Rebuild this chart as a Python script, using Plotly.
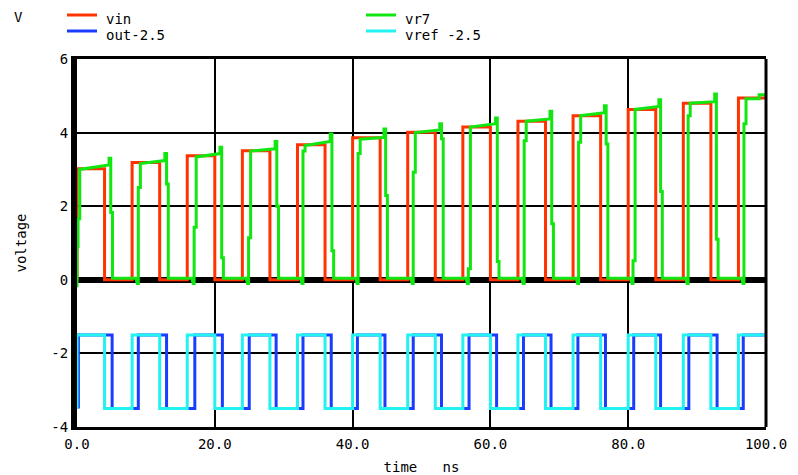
import plotly.graph_objects as go

# ---------------- data ----------------
# vin : pulse train, one pulse every 8 ns, amplitude ramps up
vin_rise_t = [0, 8, 16, 24, 32, 40, 48, 56, 64, 72, 80, 88, 96]
vin_fall_t = [4, 12, 20, 28, 36, 44, 52, 60, 68, 76, 84, 92]
vin_amp = [3.02, 3.19, 3.37, 3.51, 3.67, 3.86, 4.01, 4.15, 4.31, 4.46, 4.63, 4.80, 4.94]

# vr7 : tracking output (delayed, with steps, spikes and undershoot)
vr7_rise_t = [0.0, 8.9, 17.0, 24.9, 32.8, 40.8, 48.8, 56.8, 64.9, 72.8, 80.7, 88.7, 96.8]
vr7_fall_t = [4.9, 13.0, 21.0, 29.0, 37.0, 44.8, 52.9, 61.0, 68.9, 76.8, 84.7, 92.8]
vr7_step_up = [1.66, 2.51, 1.43, 1.14, 3.50, 3.43, 2.92, 0.30, 3.78, 3.74, 0.52, 4.46, 4.24]
vr7_top = [3.00, 3.16, 3.34, 3.50, 3.65, 3.82, 4.00, 4.15, 4.31, 4.46, 4.63, 4.80, 4.92]
vr7_top_end = [3.12, 3.24, 3.43, 3.56, 3.76, 3.87, 4.07, 4.24, 4.37, 4.54, 4.71, 4.84, 5.03]
vr7_spike = [3.30, 3.43, 3.60, 3.76, 3.96, 4.10, 4.24, 4.40, 4.58, 4.73, 4.89, 5.05]
vr7_fall_mid = [1.83, 2.60, 0.60, 2.00, 0.79, 2.29, 3.83, 0.50, 1.52, 3.69, 2.40, 1.10]
vr7_low = 0.04
vr7_dip = -0.10
vr7_start = -0.20

# out-2.5 and vref -2.5 : square waves between -3.5 and -1.5
out_edge_t = [0.2, 5.1, 8.9, 13.0, 17.1, 21.1, 25.0, 28.9, 32.8, 36.9, 40.7, 44.7,
              48.8, 52.9, 56.9, 60.9, 64.8, 68.8, 72.7, 76.7, 80.8, 84.7, 88.8, 92.9, 96.7]
vref_edge_t = [0, 4, 8, 12, 16, 20, 24, 28, 32, 36, 40, 44, 48, 52, 56, 60, 64, 68,
               72, 76, 80, 84, 88, 92, 96]
sq_low = -3.5
sq_high = -1.5
t_end = 100

x_ticks = [0, 20, 40, 60, 80, 100]
x_tick_labels = ["0.0", "20.0", "40.0", "60.0", "80.0", "100.0"]
y_ticks = [-4, -2, 0, 2, 4, 6]
y_tick_labels = ["-4", "-2", "0", "2", "4", "6"]

series_names = ["vin", "out-2.5", "vr7", "vref -2.5"]
series_colors = ["#ff3300", "#1a3cff", "#11e611", "#22f2f2"]

# ---------------- build waveforms ----------------
def pulses_vin():
    t, v = [], []
    for i, tr in enumerate(vin_rise_t):
        a = vin_amp[i]
        t += [tr, tr]
        v += [0, a]
        if i < len(vin_fall_t):
            tf = vin_fall_t[i]
            t += [tf, tf]
            v += [a, 0]
        else:
            t += [t_end]
            v += [a]
    return t, v


def pulses_vr7():
    t, v = [], []
    for i, tr in enumerate(vr7_rise_t):
        if i == 0:
            t += [tr, tr, tr + 0.15, tr + 0.15, tr + 0.4, tr + 0.4]
            v += [vr7_start, 0.9, 0.9, vr7_step_up[i], vr7_step_up[i], vr7_top[i]]
        else:
            t += [tr - 0.35, tr - 0.15, tr, tr, tr + 0.3, tr + 0.3]
            v += [vr7_low, vr7_dip, vr7_dip, vr7_step_up[i], vr7_step_up[i], vr7_top[i]]
        if i < len(vr7_fall_t):
            tf = vr7_fall_t[i]
            t += [tf - 0.25, tf - 0.25, tf, tf, tf + 0.25, tf + 0.25]
            v += [vr7_top_end[i], vr7_spike[i], vr7_spike[i], vr7_fall_mid[i],
                  vr7_fall_mid[i], vr7_low]
        else:
            t += [t_end - 1.0, t_end - 1.0, t_end]
            v += [vr7_top[i], vr7_top_end[i], vr7_top_end[i]]
    return t, v


def square(edges):
    t, v = [], []
    level = sq_low
    for e in edges:
        nxt = sq_high if level == sq_low else sq_low
        t += [e, e]
        v += [level, nxt]
        level = nxt
    t.append(t_end)
    v.append(level)
    return t, v


vin_t, vin_v = pulses_vin()
vr7_t, vr7_v = pulses_vr7()
out_t, out_v = square(out_edge_t)
vref_t, vref_v = square(vref_edge_t)

fig = go.Figure()
for (tt, vv), name, col in zip([(vin_t, vin_v), (out_t, out_v), (vr7_t, vr7_v), (vref_t, vref_v)],
                               series_names, series_colors):
    fig.add_trace(go.Scatter(x=tt, y=vv, mode="lines", name=name,
                             line=dict(color=col, width=3), hoverinfo="skip"))

FONT = "DejaVu Sans Mono"

fig.update_layout(
    width=798, height=475,
    margin=dict(l=77, r=32, t=59, b=48),
    paper_bgcolor="white", plot_bgcolor="white",
    showlegend=False,
    font=dict(family=FONT, size=14, color="black"),
)
fig.update_xaxes(
    range=[0, 100], tickvals=x_ticks, ticktext=x_tick_labels,
    showgrid=True, gridcolor="black", gridwidth=2,
    showline=True, linecolor="black", linewidth=3, mirror=True,
    zeroline=False, ticks="", automargin=False, ticklabelstandoff=2,
    title=dict(text="time\u00a0\u00a0\u00a0ns", font=dict(family=FONT, size=14), standoff=12),
)
fig.update_yaxes(
    range=[-4, 6], tickvals=y_ticks, ticktext=y_tick_labels,
    showgrid=True, gridcolor="black", gridwidth=2,
    showline=True, linecolor="black", linewidth=6, mirror=False,
    zeroline=True, zerolinecolor="black", zerolinewidth=6, ticks="", automargin=False,
    title=dict(text="voltage", font=dict(family=FONT, size=14), standoff=23),
)
# right border
fig.add_shape(type="line", xref="x domain", yref="y domain", x0=1, x1=1, y0=0, y1=1,
              line=dict(color="black", width=3), layer="above")

# legend drawn in the header area
legend_pos = [(67, 15), (67, 31), (366, 15), (366, 31)]
for (px, py), name, col in zip(legend_pos, series_names, series_colors):
    fig.add_shape(type="line", xref="paper", yref="paper",
                  x0=(px - 77) / 689, x1=(px + 30 - 77) / 689,
                  y0=1 + (59 - py) / 368, y1=1 + (59 - py) / 368,
                  line=dict(color=col, width=3))
    fig.add_annotation(text=name, xref="paper", yref="paper",
                       x=(px + 37 - 77) / 689, y=1 + (59 - py - 4) / 368,
                       xanchor="left", yanchor="middle", showarrow=False,
                       font=dict(family=FONT, size=14, color="black"))
fig.add_annotation(text="V", xref="paper", yref="paper",
                   x=(12 - 77) / 689, y=1 + (59 - 17) / 368,
                   xanchor="left", yanchor="middle", showarrow=False,
                   font=dict(family=FONT, size=14, color="black"))

fig.write_html("out.html", config={"displayModeBar": False},
               post_script="document.body.style.margin='0';")
